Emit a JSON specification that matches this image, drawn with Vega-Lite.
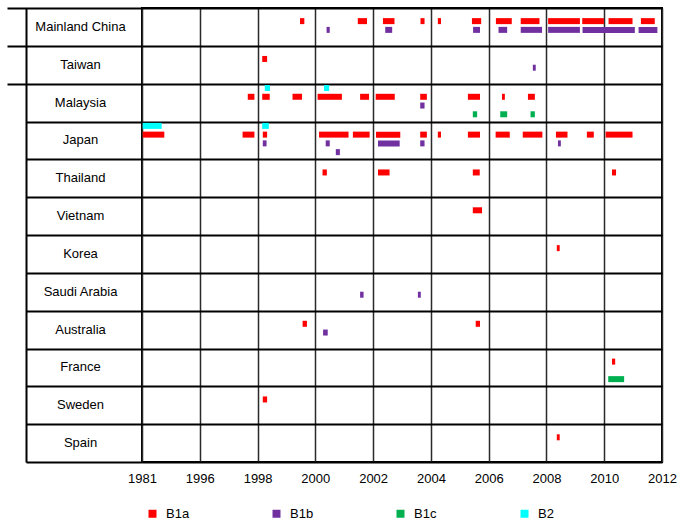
{
  "$schema": "https://vega.github.io/schema/vega-lite/v6.json",
  "width": 520,
  "height": 454,
  "autosize": {"type": "none"},
  "padding": {"left": 142, "top": 8, "right": 21, "bottom": 63},
  "background": "white",
  "config": {"font": "Liberation Sans", "view": {"stroke": "#000", "strokeWidth": 2}},
  "datasets": {
    "countries": [
      {"country": "Mainland China"}, {"country": "Taiwan"}, {"country": "Malaysia"}, {"country": "Japan"},
      {"country": "Thailand"}, {"country": "Vietnam"}, {"country": "Korea"}, {"country": "Saudi Arabia"},
      {"country": "Australia"}, {"country": "France"}, {"country": "Sweden"}, {"country": "Spain"}
    ],
    "bars": [
      {"country": "Mainland China", "genotype": "B1a", "track": 2, "start": 1999.47, "end": 1999.62},
      {"country": "Mainland China", "genotype": "B1a", "track": 2, "start": 2001.47, "end": 2001.79},
      {"country": "Mainland China", "genotype": "B1a", "track": 2, "start": 2002.34, "end": 2002.74},
      {"country": "Mainland China", "genotype": "B1a", "track": 2, "start": 2003.64, "end": 2003.78},
      {"country": "Mainland China", "genotype": "B1a", "track": 2, "start": 2004.24, "end": 2004.35},
      {"country": "Mainland China", "genotype": "B1a", "track": 2, "start": 2005.42, "end": 2005.74},
      {"country": "Mainland China", "genotype": "B1a", "track": 2, "start": 2006.25, "end": 2006.8},
      {"country": "Mainland China", "genotype": "B1a", "track": 2, "start": 2007.11, "end": 2007.76},
      {"country": "Mainland China", "genotype": "B1a", "track": 2, "start": 2008.06, "end": 2009.16},
      {"country": "Mainland China", "genotype": "B1a", "track": 2, "start": 2009.24, "end": 2009.99},
      {"country": "Mainland China", "genotype": "B1a", "track": 2, "start": 2010.15, "end": 2010.98},
      {"country": "Mainland China", "genotype": "B1a", "track": 2, "start": 2011.27, "end": 2011.75},
      {"country": "Mainland China", "genotype": "B1b", "track": 3, "start": 2000.39, "end": 2000.5},
      {"country": "Mainland China", "genotype": "B1b", "track": 3, "start": 2002.42, "end": 2002.66},
      {"country": "Mainland China", "genotype": "B1b", "track": 3, "start": 2005.46, "end": 2005.7},
      {"country": "Mainland China", "genotype": "B1b", "track": 3, "start": 2006.34, "end": 2006.64},
      {"country": "Mainland China", "genotype": "B1b", "track": 3, "start": 2007.11, "end": 2007.85},
      {"country": "Mainland China", "genotype": "B1b", "track": 3, "start": 2008.06, "end": 2009.16},
      {"country": "Mainland China", "genotype": "B1b", "track": 3, "start": 2009.25, "end": 2011.06},
      {"country": "Mainland China", "genotype": "B1b", "track": 3, "start": 2011.19, "end": 2011.84},
      {"country": "Taiwan", "genotype": "B1a", "track": 2, "start": 1998.16, "end": 1998.33},
      {"country": "Taiwan", "genotype": "B1b", "track": 3, "start": 2007.53, "end": 2007.63},
      {"country": "Malaysia", "genotype": "B2", "track": 1, "start": 1998.25, "end": 1998.43},
      {"country": "Malaysia", "genotype": "B2", "track": 1, "start": 2000.3, "end": 2000.48},
      {"country": "Malaysia", "genotype": "B1a", "track": 2, "start": 1997.66, "end": 1997.89},
      {"country": "Malaysia", "genotype": "B1a", "track": 2, "start": 1998.16, "end": 1998.42},
      {"country": "Malaysia", "genotype": "B1a", "track": 2, "start": 1999.21, "end": 1999.54},
      {"country": "Malaysia", "genotype": "B1a", "track": 2, "start": 2000.08, "end": 2000.92},
      {"country": "Malaysia", "genotype": "B1a", "track": 2, "start": 2001.55, "end": 2001.86},
      {"country": "Malaysia", "genotype": "B1a", "track": 2, "start": 2002.09, "end": 2002.75},
      {"country": "Malaysia", "genotype": "B1a", "track": 2, "start": 2003.63, "end": 2003.86},
      {"country": "Malaysia", "genotype": "B1a", "track": 2, "start": 2005.28, "end": 2005.7},
      {"country": "Malaysia", "genotype": "B1a", "track": 2, "start": 2006.46, "end": 2006.56},
      {"country": "Malaysia", "genotype": "B1a", "track": 2, "start": 2007.36, "end": 2007.6},
      {"country": "Malaysia", "genotype": "B1b", "track": 3, "start": 2003.63, "end": 2003.78},
      {"country": "Malaysia", "genotype": "B1c", "track": 4, "start": 2005.45, "end": 2005.6},
      {"country": "Malaysia", "genotype": "B1c", "track": 4, "start": 2006.4, "end": 2006.64},
      {"country": "Malaysia", "genotype": "B1c", "track": 4, "start": 2007.45, "end": 2007.6},
      {"country": "Japan", "genotype": "B2", "track": 1, "start": 1981.18, "end": 1986.1},
      {"country": "Japan", "genotype": "B2", "track": 1, "start": 1998.16, "end": 1998.39},
      {"country": "Japan", "genotype": "B1a", "track": 2, "start": 1981.18, "end": 1986.79},
      {"country": "Japan", "genotype": "B1a", "track": 2, "start": 1997.48, "end": 1997.89},
      {"country": "Japan", "genotype": "B1a", "track": 2, "start": 1998.18, "end": 1998.33},
      {"country": "Japan", "genotype": "B1a", "track": 2, "start": 2000.13, "end": 2001.15},
      {"country": "Japan", "genotype": "B1a", "track": 2, "start": 2001.3, "end": 2001.88},
      {"country": "Japan", "genotype": "B1a", "track": 2, "start": 2002.1, "end": 2002.94},
      {"country": "Japan", "genotype": "B1a", "track": 2, "start": 2003.63, "end": 2003.86},
      {"country": "Japan", "genotype": "B1a", "track": 2, "start": 2004.24, "end": 2004.35},
      {"country": "Japan", "genotype": "B1a", "track": 2, "start": 2005.28, "end": 2005.7},
      {"country": "Japan", "genotype": "B1a", "track": 2, "start": 2006.24, "end": 2006.73},
      {"country": "Japan", "genotype": "B1a", "track": 2, "start": 2007.18, "end": 2007.86},
      {"country": "Japan", "genotype": "B1a", "track": 2, "start": 2008.33, "end": 2008.73},
      {"country": "Japan", "genotype": "B1a", "track": 2, "start": 2009.4, "end": 2009.64},
      {"country": "Japan", "genotype": "B1a", "track": 2, "start": 2010.05, "end": 2010.98},
      {"country": "Japan", "genotype": "B1b", "track": 3, "start": 1998.18, "end": 1998.31},
      {"country": "Japan", "genotype": "B1b", "track": 3, "start": 2000.36, "end": 2000.5},
      {"country": "Japan", "genotype": "B1b", "track": 4, "start": 2000.71, "end": 2000.85},
      {"country": "Japan", "genotype": "B1b", "track": 3, "start": 2002.17, "end": 2002.92},
      {"country": "Japan", "genotype": "B1b", "track": 3, "start": 2003.63, "end": 2003.78},
      {"country": "Japan", "genotype": "B1b", "track": 3, "start": 2008.4, "end": 2008.5},
      {"country": "Thailand", "genotype": "B1a", "track": 2, "start": 2000.25, "end": 2000.4},
      {"country": "Thailand", "genotype": "B1a", "track": 2, "start": 2002.17, "end": 2002.57},
      {"country": "Thailand", "genotype": "B1a", "track": 2, "start": 2005.45, "end": 2005.69},
      {"country": "Thailand", "genotype": "B1a", "track": 2, "start": 2010.27, "end": 2010.41},
      {"country": "Vietnam", "genotype": "B1a", "track": 2, "start": 2005.45, "end": 2005.77},
      {"country": "Korea", "genotype": "B1a", "track": 2, "start": 2008.36, "end": 2008.46},
      {"country": "Saudi Arabia", "genotype": "B1b", "track": 3, "start": 2001.55, "end": 2001.67},
      {"country": "Saudi Arabia", "genotype": "B1b", "track": 3, "start": 2003.55, "end": 2003.65},
      {"country": "Australia", "genotype": "B1a", "track": 2, "start": 1999.56, "end": 1999.71},
      {"country": "Australia", "genotype": "B1a", "track": 2, "start": 2005.55, "end": 2005.7},
      {"country": "Australia", "genotype": "B1b", "track": 3, "start": 2000.27, "end": 2000.43},
      {"country": "France", "genotype": "B1a", "track": 2, "start": 2010.27, "end": 2010.38},
      {"country": "France", "genotype": "B1c", "track": 4, "start": 2010.14, "end": 2010.69},
      {"country": "Sweden", "genotype": "B1a", "track": 2, "start": 1998.18, "end": 1998.33},
      {"country": "Spain", "genotype": "B1a", "track": 2, "start": 2008.36, "end": 2008.46}
    ]
  },
  "layer": [
    {
      "data": {"name": "bars"},
      "mark": {"type": "bar", "height": 6},
      "encoding": {
        "x": {
          "field": "start", "type": "quantitative",
          "scale": {
            "domain": [1981, 1996, 1998, 2000, 2002, 2004, 2006, 2008, 2010, 2012],
            "range": [0, 57.8, 115.6, 173.3, 231.1, 288.9, 346.7, 404.4, 462.2, 520],
            "zero": false, "nice": false
          },
          "axis": {
            "title": null, "values": [1981, 1996, 1998, 2000, 2002, 2004, 2006, 2008, 2010, 2012],
            "format": "d", "labelFlush": false, "labelOverlap": false, "ticks": false, "domain": false,
            "grid": true, "gridColor": "#2a2a2a", "gridWidth": 1.5, "gridOpacity": 1,
            "labelFontSize": 13, "labelColor": "#000", "labelPadding": 10
          }
        },
        "x2": {"field": "end"},
        "y": {
          "field": "country", "type": "nominal", "sort": null,
          "scale": {
            "domain": ["Mainland China", "Taiwan", "Malaysia", "Japan", "Thailand", "Vietnam", "Korea", "Saudi Arabia", "Australia", "France", "Sweden", "Spain"],
            "paddingInner": 0, "paddingOuter": 0
          },
          "axis": {
            "orient": "left", "title": null, "labels": false, "domain": false,
            "ticks": true, "tickBand": "extent", "tickColor": "#000", "tickWidth": 2,
            "tickSize": {"condition": {"test": "!isValid(datum.value) || indexof(['Mainland China','Taiwan'], datum.value) >= 0", "value": 135}, "value": 116},
            "grid": true, "gridColor": "#000", "gridWidth": 2, "gridOpacity": 1
          }
        },
        "yOffset": {
          "field": "track", "type": "ordinal",
          "scale": {"domain": [1, 2, 3, 4], "range": [0, 35], "paddingInner": 0, "paddingOuter": 0}
        },
        "color": {
          "field": "genotype", "type": "nominal",
          "scale": {"domain": ["B1a", "B1b", "B1c", "B2"], "range": ["#FF0000", "#7030A0", "#00B050", "#00FFFF"]},
          "legend": {
            "title": null, "orient": "none", "direction": "horizontal", "legendX": 4, "legendY": 499,
            "symbolType": "square", "symbolSize": 64, "symbolStrokeWidth": 0, "labelFontSize": 13,
            "labelColor": "#000", "labelOffset": 7, "gridAlign": "all", "columnPadding": 80, "padding": 0
          }
        }
      }
    },
    {
      "data": {"name": "countries"},
      "mark": {"type": "text", "opacity": 0},
      "encoding": {
        "y": {
          "field": "country", "type": "nominal", "sort": null,
          "scale": {
            "domain": ["Mainland China", "Taiwan", "Malaysia", "Japan", "Thailand", "Vietnam", "Korea", "Saudi Arabia", "Australia", "France", "Sweden", "Spain"],
            "paddingInner": 0, "paddingOuter": 0
          },
          "axis": {
            "orient": "left", "title": null, "offset": 116, "domain": true, "domainColor": "#000", "domainWidth": 2,
            "ticks": false, "grid": false, "labels": true, "labelAlign": "center", "labelPadding": -54,
            "labelFontSize": 13, "labelColor": "#000", "labelLimit": 200
          }
        }
      }
    }
  ],
  "resolve": {"axis": {"y": "independent"}}
}
